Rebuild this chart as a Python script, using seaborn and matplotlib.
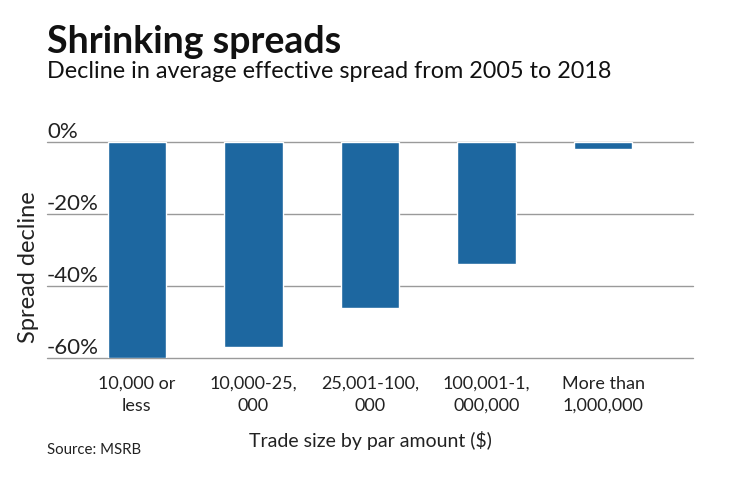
import matplotlib
matplotlib.use("Agg")
import matplotlib.pyplot as plt
import matplotlib.transforms as mtransforms
import seaborn as sns
import pandas as pd

categories = ["10,000 or\nless", "10,000-25,\n000", "25,001-100,\n000", "100,001-1,\n000,000", "More than\n1,000,000"]
spread_decline = [-60, -57, -46, -34, -2]
yticks = [0, -20, -40, -60]
ytick_labels = ["0%", "-20%", "-40%", "-60%"]

sns.set_theme(style="white")
plt.rcParams['font.family'] = ['Lato', 'DejaVu Sans']

df = pd.DataFrame({"cat": categories, "val": spread_decline})

fig = plt.figure(figsize=(7.4, 4.82), dpi=100)
ax = fig.add_axes([47/740, 1-358/482, (693-47)/740, (358-142)/482])

sns.barplot(data=df, x="cat", y="val", color="#1d67a0", width=0.5, saturation=1, ax=ax)

ax.set_xlim(-0.77, 4.77)
ax.set_ylim(-60, 0)
for y in yticks:
    ax.axhline(y, color="#9a9a9a", lw=1, zorder=0, clip_on=False)
for s in ax.spines.values():
    s.set_visible(False)
ax.set_yticks([])
trans = mtransforms.blended_transform_factory(ax.transAxes, ax.transData)
for y, lab in zip(yticks, ytick_labels):
    ax.text(0, y, lab, transform=trans, ha="left", va="bottom", fontsize=16, color="#222222")
ax.tick_params(axis="x", length=0, pad=13, labelsize=13, labelcolor="#222222")
for t in ax.get_xticklabels():
    t.set_linespacing(1.45)
ax.set_xlabel("Trade size by par amount ($)", fontsize=14, color="#222222", labelpad=12)
ax.set_ylabel("Spread decline", fontsize=17, color="#222222")
ax.yaxis.set_label_coords(-0.012, 0.42)

fig.text(47/740, 1-42/482, "Shrinking spreads", fontsize=27, fontweight="bold", color="#111111", va="center")
fig.text(47/740, 1-72/482, "Decline in average effective spread from 2005 to 2018", fontsize=16.8, color="#111111", va="center")
fig.text(47/740, 1-450/482, "Source: MSRB", fontsize=10.8, color="#222222", va="center")

fig.savefig("out.png", dpi=100)
